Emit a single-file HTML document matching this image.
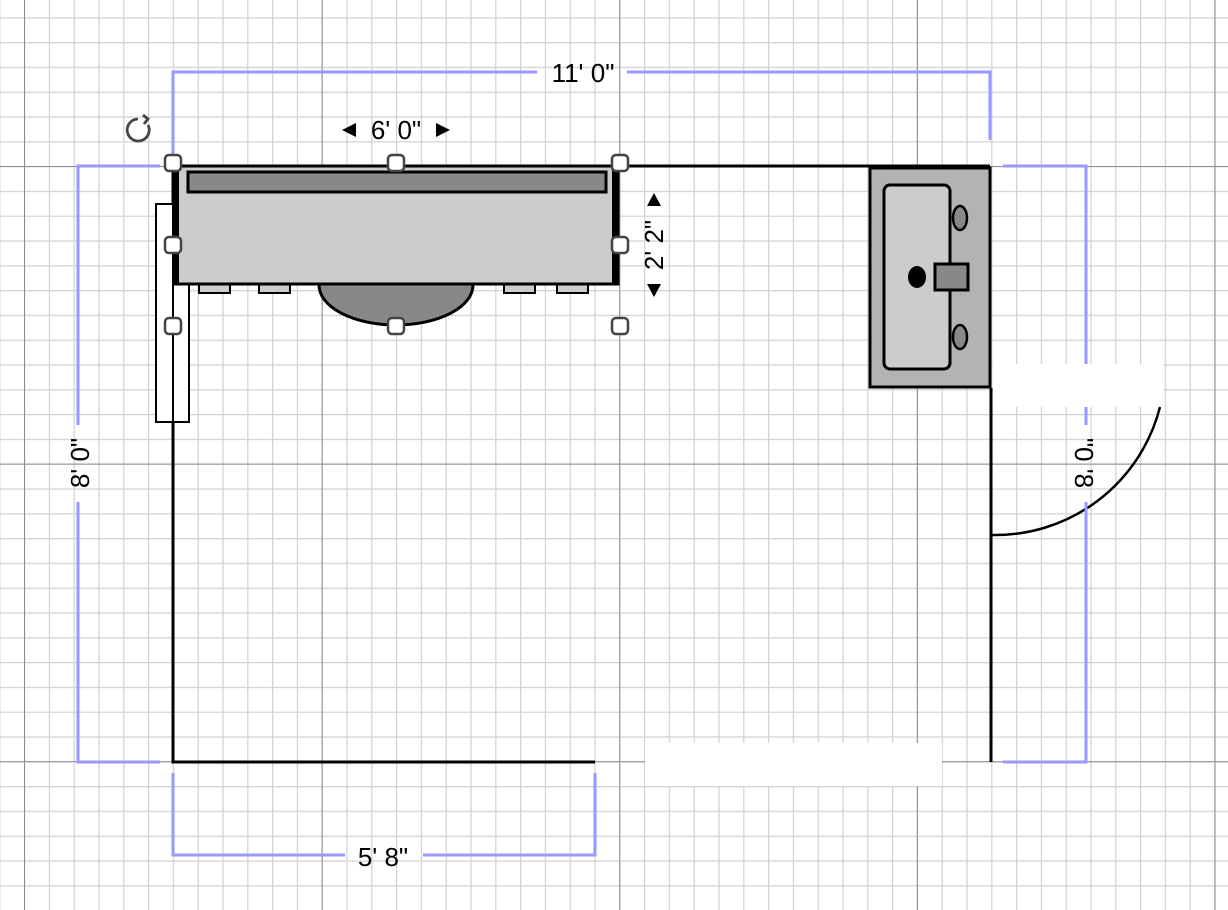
<!DOCTYPE html>
<html><head><meta charset="utf-8"><style>
html,body{margin:0;padding:0;background:#fff;width:1228px;height:910px;overflow:hidden}
svg{display:block}
text{font-family:"Liberation Sans",sans-serif;fill:#000}
</style></head><body>
<svg width="1228" height="910" viewBox="0 0 1228 910" xmlns="http://www.w3.org/2000/svg">
<defs>
<pattern id="minor" x="24" y="166" width="24.8" height="24.8" patternUnits="userSpaceOnUse">
<path d="M0.5 0V24.8M0 0.5H24.8" stroke="#d2d2d2" stroke-width="1.5" fill="none"/>
</pattern>
<pattern id="major" x="24" y="166" width="297.6" height="297.6" patternUnits="userSpaceOnUse">
<path d="M0.5 0V297.6M0 0.5H297.6" stroke="#8c8c8c" stroke-width="1" fill="none"/>
</pattern>
</defs>
<rect width="1228" height="910" fill="#fff"/>
<rect width="1228" height="910" fill="url(#minor)"/>
<rect width="1228" height="910" fill="url(#major)"/>

<rect x="645" y="743" width="297" height="43" fill="#fff"/>
<rect x="993" y="364" width="170" height="43" fill="#fff"/>

<g stroke="#000" stroke-width="3" fill="none">
<path d="M173 166H990"/>
<path d="M173 166V762H595"/>
<path d="M991 388V762"/>
</g>
<path d="M1160 407 A170 170 0 0 1 991 535" stroke="#000" stroke-width="2.5" fill="none"/>

<g stroke="#9999ff" stroke-width="3" fill="none">
<path d="M173 155V72H537M627 72H990V140"/>
<path d="M160 166H78V425M78 502V762H160"/>
<path d="M1003 166H1086V364M1086 407V425M1086 502V762H1003"/>
<path d="M173 773V855H345M423 855H595V773"/>
</g>
<text x="583" y="82" font-size="26" text-anchor="middle">11' 0"</text>
<text x="383" y="866" font-size="26" text-anchor="middle">5' 8"</text>
<text transform="translate(89 463) rotate(-90)" font-size="26" text-anchor="middle">8' 0"</text>
<text transform="translate(1075 463) rotate(90) scale(-1 1)" font-size="26" text-anchor="middle">8' 0"</text>

<rect x="156" y="204" width="33" height="218" fill="#fff" stroke="#000" stroke-width="2"/>
<line x1="173" y1="204" x2="173" y2="422" stroke="#000" stroke-width="2"/>

<ellipse cx="396" cy="285" rx="77" ry="40" fill="#888" stroke="#000" stroke-width="3"/>
<g fill="#ccc" stroke="#000" stroke-width="2">
<rect x="199" y="284" width="31" height="9"/>
<rect x="259" y="284" width="31" height="9"/>
<rect x="504" y="284" width="31" height="9"/>
<rect x="557" y="284" width="31" height="9"/>
</g>
<rect x="175" y="166" width="443" height="118" fill="#ccc" stroke="#000" stroke-width="3"/>
<rect x="173" y="166" width="6" height="118" fill="#000"/>
<rect x="612" y="166" width="6" height="118" fill="#000"/>
<rect x="188" y="172" width="418" height="20" fill="#888" stroke="#000" stroke-width="3"/>

<rect x="870" y="168" width="120" height="219" fill="#b3b3b3" stroke="#000" stroke-width="3"/>
<rect x="884" y="185" width="66" height="184" rx="6" fill="#ccc" stroke="#000" stroke-width="3"/>
<ellipse cx="960" cy="218" rx="7" ry="12" fill="#888" stroke="#000" stroke-width="2.5"/>
<ellipse cx="960" cy="337" rx="7" ry="12" fill="#888" stroke="#000" stroke-width="2.5"/>
<ellipse cx="917" cy="277" rx="9" ry="11" fill="#000"/>
<rect x="935" y="264" width="33" height="26" fill="#888" stroke="#000" stroke-width="3"/>

<g fill="#fff" stroke="#444" stroke-width="2.5">
<rect x="165" y="155" width="16" height="16" rx="4"/>
<rect x="388" y="155" width="16" height="16" rx="4"/>
<rect x="612" y="155" width="16" height="16" rx="4"/>
<rect x="165" y="237" width="16" height="16" rx="4"/>
<rect x="612" y="237" width="16" height="16" rx="4"/>
<rect x="165" y="318" width="16" height="16" rx="4"/>
<rect x="388" y="318" width="16" height="16" rx="4"/>
<rect x="612" y="318" width="16" height="16" rx="4"/>
</g>

<path d="M138 119 A11 11 0 1 0 148 125" stroke="#444" stroke-width="2.8" fill="none"/>
<path d="M143 115 L148 119 L144 124" stroke="#444" stroke-width="2.8" fill="none"/>

<text x="396" y="139" font-size="26" text-anchor="middle">6' 0"</text>
<path d="M342 130 L356 123 L356 137Z M450 130 L436 123 L436 137Z" fill="#000"/>
<text transform="translate(663 245) rotate(-90)" font-size="26" text-anchor="middle">2' 2"</text>
<path d="M654 193 L647 206 L661 206Z M654 297 L647 284 L661 284Z" fill="#000"/>
</svg>
</body></html>
